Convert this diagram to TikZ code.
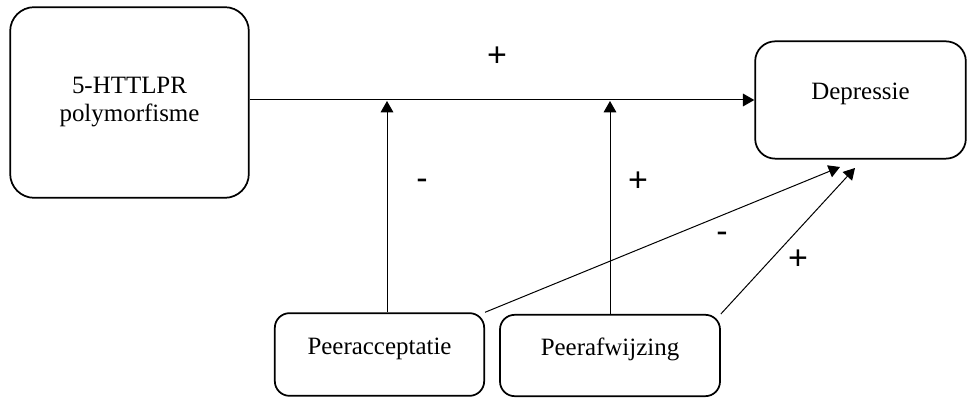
\documentclass[tikz,border=0pt]{standalone}
\usepackage{fontspec}
\setmainfont{Liberation Serif}
\newfontfamily\signfont{Liberation Sans}
\usetikzlibrary{arrows.meta, positioning}

\begin{document}
\begin{tikzpicture}[
    x=0.75pt, y=-0.75pt,
    varbox/.style={draw, line width=1.3pt, rounded corners=18pt, fill=white,
                   align=center, inner sep=0pt,
                   font=\fontsize{18.7}{21}\selectfont},
    highbox/.style={varbox, rounded corners=11pt, text depth=13pt},
    sign/.style={inner sep=0pt, font=\signfont\fontsize{25.5}{28}\selectfont},
    arr/.style={-{Triangle[length=8.5pt, width=9.5pt]}, line width=0.75pt}
  ]
  \useasboundingbox (0,0) rectangle (968,398);

  \node[varbox, minimum width=179pt, minimum height=143pt] (gene) at (129.5,102.5)
    {5-HTTLPR\\polymorfisme};
  \node[highbox, rounded corners=15pt, minimum width=158pt, minimum height=88pt] (dep) at (860.5,100)
    {Depressie};
  \node[highbox, minimum width=157pt, minimum height=62pt] (acc) at (379.5,354.5)
    {Peeracceptatie};
  \node[highbox, minimum width=165pt, minimum height=61pt] (afw) at (610,355.5)
    {Peerafwijzing};

  % points on the main path and below Depressie
  \coordinate (m1) at (387,101);
  \coordinate (m2) at (610,101);
  \coordinate (d1) at (840,167);
  \coordinate (d2) at (855,168);

  \draw[arr] (gene.east |- dep.west) -- (dep.west);
  \draw[arr] (acc.north -| m1) -- (m1);
  \draw[arr] (afw.north) -- (m2);
  \draw[arr] (acc.north east) -- (d1);
  \draw[arr] (afw.north east) -- (d2);

  \node[sign] (s1) at (497,57) {+};
  \node[sign] (s2) at (422,184) {-};
  \node[sign] (s3) at (638,182) {+};
  \node[sign] (s4) at (722,237) {-};
  \node[sign] (s5) at (798,260) {+};

\end{tikzpicture}
\end{document}
